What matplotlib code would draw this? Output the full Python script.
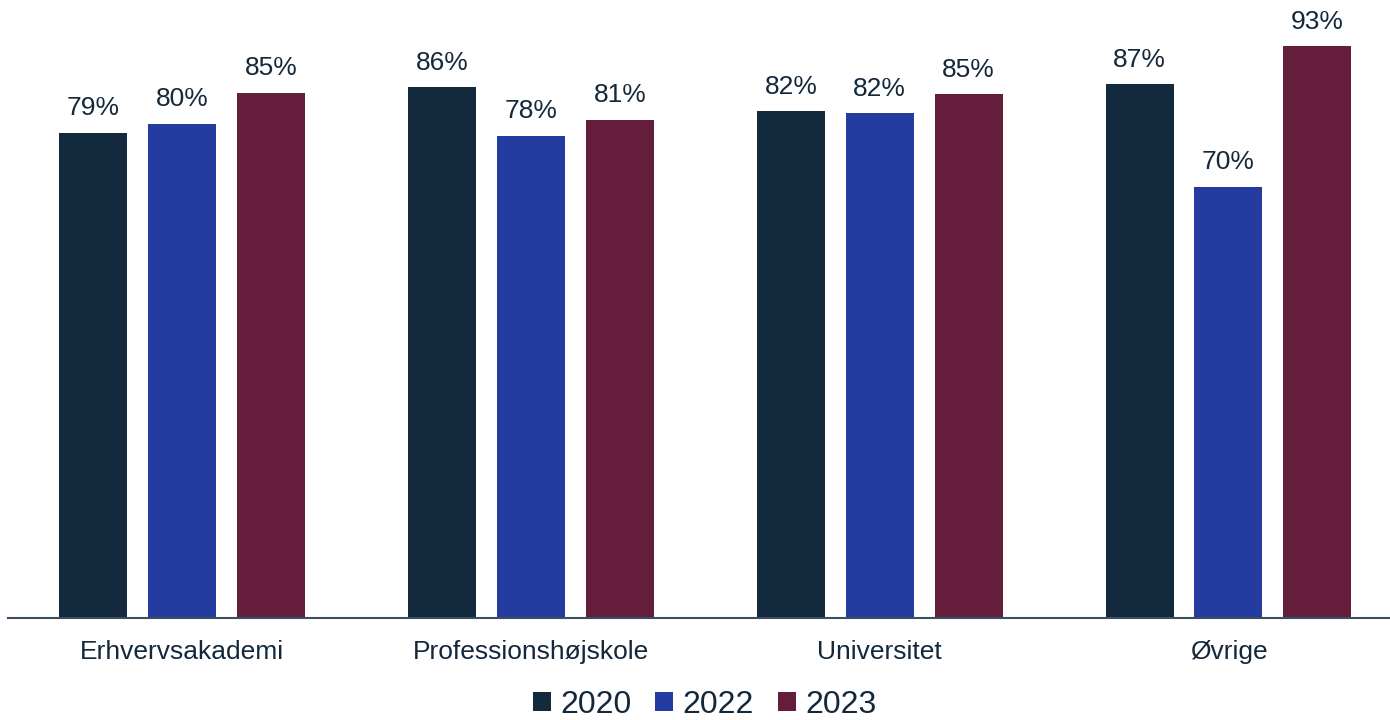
import numpy as np
import matplotlib.pyplot as plt

plt.rcParams['font.family'] = ['Liberation Sans', 'DejaVu Sans']

# Data
categories = ['Erhvervsakademi', 'Professionshøjskole', 'Universitet', 'Øvrige']
years = ['2020', '2022', '2023']
share_2020 = [0.789, 0.863, 0.824, 0.868]
share_2022 = [0.804, 0.784, 0.821, 0.701]
share_2023 = [0.854, 0.810, 0.852, 0.930]

colors = ['#13293d', '#243ca0', '#641e3b']
text_color = '#14283c'

fig = plt.figure(figsize=(13.9, 7.2), dpi=100)
ax = fig.add_axes([8 / 1390, 102 / 720, 1382 / 1390, 615 / 720])

x = np.arange(len(categories))
width = 0.195
step = 0.255

for i, (vals, yr) in enumerate(zip([share_2020, share_2022, share_2023], years)):
    pos = x + (i - 1) * step
    bars = ax.bar(pos, vals, width, color=colors[i], label=yr, zorder=2)
    for b, v in zip(bars, vals):
        ax.annotate(f'{v * 100:.0f}%', (b.get_x() + b.get_width() / 2, v),
                    xytext=(0, 9), textcoords='offset points',
                    ha='center', va='bottom', fontsize=19, color=text_color)

ax.set_ylim(0, 1.0)
ax.set_xlim(-0.5, -0.5 + 1382 / 348.7)
ax.set_yticks([])
ax.set_xticks(x)
ax.set_xticklabels(categories, fontsize=19, color=text_color)
ax.tick_params(axis='x', length=0, pad=16)
for s in ['top', 'right', 'left']:
    ax.spines[s].set_visible(False)
ax.spines['bottom'].set_color('#3c4e62')
ax.spines['bottom'].set_linewidth(1.5)

leg = fig.legend(loc='lower center', bbox_to_anchor=(0.507, -0.04), ncol=3,
                 frameon=False, fontsize=23, handlelength=0.55, handleheight=0.55,
                 handletextpad=0.3, columnspacing=0.75)
for t in leg.get_texts():
    t.set_color(text_color)

fig.savefig('out.png', dpi=100)
